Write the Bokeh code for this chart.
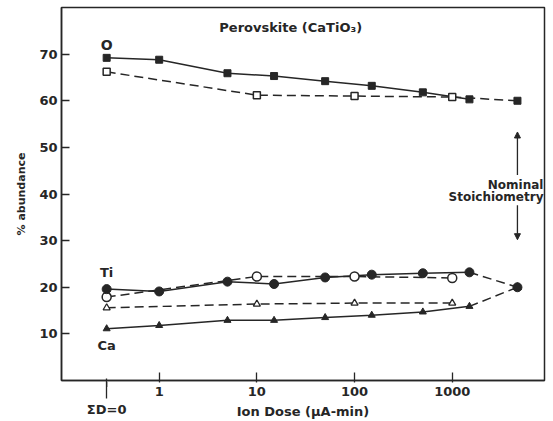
from bokeh.plotting import figure
from bokeh.models import (FixedTicker, Label, Arrow, NormalHead, Range1d, LogAxis)
from bokeh.embed import file_html
from bokeh.resources import INLINE

# Dose axis positions: the unsputtered surface (sum of dose = 0) is drawn left of 1
ZERO_POS = 0.29
NOMINAL_POS = 4650

# Filled-symbol runs (solid lines)
dose_run = [ZERO_POS, 1, 5, 15, 50, 150, 500, 1500]
o_run = [69.2, 68.8, 65.9, 65.3, 64.2, 63.2, 61.8, 60.3]
ti_run = [19.6, 19.1, 21.2, 20.7, 22.1, 22.7, 23.0, 23.2]
ca_run = [11.1, 11.8, 12.9, 12.9, 13.5, 14.0, 14.7, 15.9]

# Open-symbol runs (dashed lines)
dose_open = [ZERO_POS, 10, 100, 1000]
o_open = [66.2, 61.2, 61.0, 60.8]
ti_open = [17.9, 22.3, 22.3, 22.0]
ca_open = [15.6, 16.4, 16.6, 16.6]

# Nominal stoichiometry of CaTiO3
nominal = {"O": 60.0, "Ti": 20.0, "Ca": 20.0}

x_ticks = [1, 10, 100, 1000]
x_tick_labels = ["1", "10", "100", "1000"]
y_ticks = [10, 20, 30, 40, 50, 60, 70]

INK = "#262626"
FONT = "DejaVu Sans"
DASH = "9 5"

p = figure(width=553, height=421, x_axis_type="log",
           x_range=Range1d(0.1, 8800), y_range=Range1d(0, 80),
           output_backend="svg", toolbar_location=None,
           min_border_left=61, min_border_right=9,
           min_border_top=7, min_border_bottom=40,
           background_fill_color="white", border_fill_color="white")
p.grid.visible = False
p.outline_line_color = INK
p.outline_line_width = 1.5


def style_axis(ax):
    ax.axis_line_color = INK
    ax.axis_line_width = 1.5
    ax.major_tick_line_color = INK
    ax.major_tick_line_width = 1.3
    ax.minor_tick_line_color = None
    ax.major_label_text_font = FONT
    ax.major_label_text_font_style = "bold"
    ax.major_label_text_color = INK
    ax.major_label_text_font_size = "13px"
    ax.axis_label_text_font = FONT
    ax.axis_label_text_font_style = "bold"
    ax.axis_label_text_color = INK


style_axis(p.xaxis[0])
style_axis(p.yaxis[0])

p.xaxis.ticker = FixedTicker(ticks=x_ticks)
p.xaxis.major_label_overrides = dict(zip(x_ticks, x_tick_labels))
p.xaxis.major_tick_in = 8
p.xaxis.major_tick_out = 2
p.xaxis.major_label_standoff = 4

# second row under the dose axis: the zero-dose marker and the axis title
zero_axis = LogAxis(ticker=FixedTicker(ticks=[ZERO_POS]),
                    major_label_overrides={ZERO_POS: "\u03a3D=0"})
style_axis(zero_axis)
zero_axis.axis_line_color = None
zero_axis.major_tick_in = 20
zero_axis.major_tick_out = 0
zero_axis.major_label_standoff = 3
zero_axis.axis_label = "Ion Dose (\u03bcA-min)"
zero_axis.axis_label_text_font_size = "13px"
zero_axis.axis_label_standoff = -16
p.add_layout(zero_axis, "below")

p.yaxis.ticker = FixedTicker(ticks=y_ticks)
p.yaxis.major_tick_in = 8
p.yaxis.major_tick_out = 0
p.yaxis.major_label_standoff = 4
p.yaxis.axis_label = "% abundance"
p.yaxis.axis_label_text_font_size = "11px"
p.yaxis.axis_label_standoff = 8

# solid runs
p.line(dose_run, o_run, line_color=INK, line_width=1.5)
p.line(dose_run, ti_run, line_color=INK, line_width=1.5)
p.line(dose_run, ca_run, line_color=INK, line_width=1.5)

# dashed runs
p.line(dose_open, o_open, line_color=INK, line_width=1.5, line_dash=DASH)
p.line(dose_open, ti_open, line_color=INK, line_width=1.5, line_dash=DASH)
p.line(dose_open, ca_open, line_color=INK, line_width=1.5, line_dash=DASH)

# dashed links to the nominal composition
p.line([dose_open[-1], NOMINAL_POS], [o_open[-1], nominal["O"]],
       line_color=INK, line_width=1.5, line_dash=DASH)
p.line([dose_run[-1], NOMINAL_POS], [ti_run[-1], nominal["Ti"]],
       line_color=INK, line_width=1.5, line_dash=DASH)
p.line([dose_run[-1], NOMINAL_POS], [ca_run[-1], nominal["Ca"]],
       line_color=INK, line_width=1.5, line_dash=DASH)

# markers: open symbols
p.scatter(dose_open, o_open, marker="square", size=7, fill_color="white",
          line_color=INK, line_width=1.5)
p.scatter(dose_open, ti_open, marker="circle", size=9, fill_color="white",
          line_color=INK, line_width=1.5)
p.scatter(dose_open, ca_open, marker="triangle", size=7, fill_color="white",
          line_color=INK, line_width=1.3)

# markers: filled symbols
p.scatter(dose_run, o_run, marker="square", size=7, fill_color=INK, line_color=INK)
p.scatter(dose_run, ti_run, marker="circle", size=9, fill_color=INK, line_color=INK)
p.scatter(dose_run, ca_run, marker="triangle", size=7, fill_color=INK, line_color=INK)
p.scatter([NOMINAL_POS], [nominal["O"]], marker="square", size=7,
          fill_color=INK, line_color=INK)
p.scatter([NOMINAL_POS], [nominal["Ti"]], marker="circle", size=9,
          fill_color=INK, line_color=INK)
p.scatter([NOMINAL_POS], [nominal["Ca"]], marker="triangle", size=8,
          fill_color=INK, line_color=INK)


def text(x, y, s, size="13px", align="center"):
    p.add_layout(Label(x=x, y=y, text=s, text_font=FONT, text_font_style="bold",
                       text_font_size=size, text_color=INK, text_align=align,
                       text_baseline="middle"))


text(22.2, 75.8, "Perovskite (CaTiO\u2083)")
text(ZERO_POS, 71.9, "O", size="14px")
text(ZERO_POS, 23.1, "Ti", size="13px")
text(ZERO_POS, 7.5, "Ca", size="13px")
text(8590, 41.9, "Nominal", size="12px", align="right")
text(8590, 39.4, "Stoichiometry", size="12px", align="right")

# arrows marking the nominal composition
head = dict(size=6, fill_color=INK, line_color=INK)
p.add_layout(Arrow(end=NormalHead(**head), x_start=NOMINAL_POS, y_start=44.1,
                   x_end=NOMINAL_POS, y_end=53.3, line_color=INK, line_width=1.3))
p.add_layout(Arrow(end=NormalHead(**head), x_start=NOMINAL_POS, y_start=37.6,
                   x_end=NOMINAL_POS, y_end=30.2, line_color=INK, line_width=1.3))
# head of the zero-dose marker, just under the axis
p.add_layout(Arrow(end=NormalHead(size=5, fill_color=INK, line_color=INK),
                   x_start=ZERO_POS, y_start=-3.0, x_end=ZERO_POS, y_end=-0.3,
                   line_color=INK, line_width=1.3))

open("out.html", "w").write(file_html(p, INLINE))
